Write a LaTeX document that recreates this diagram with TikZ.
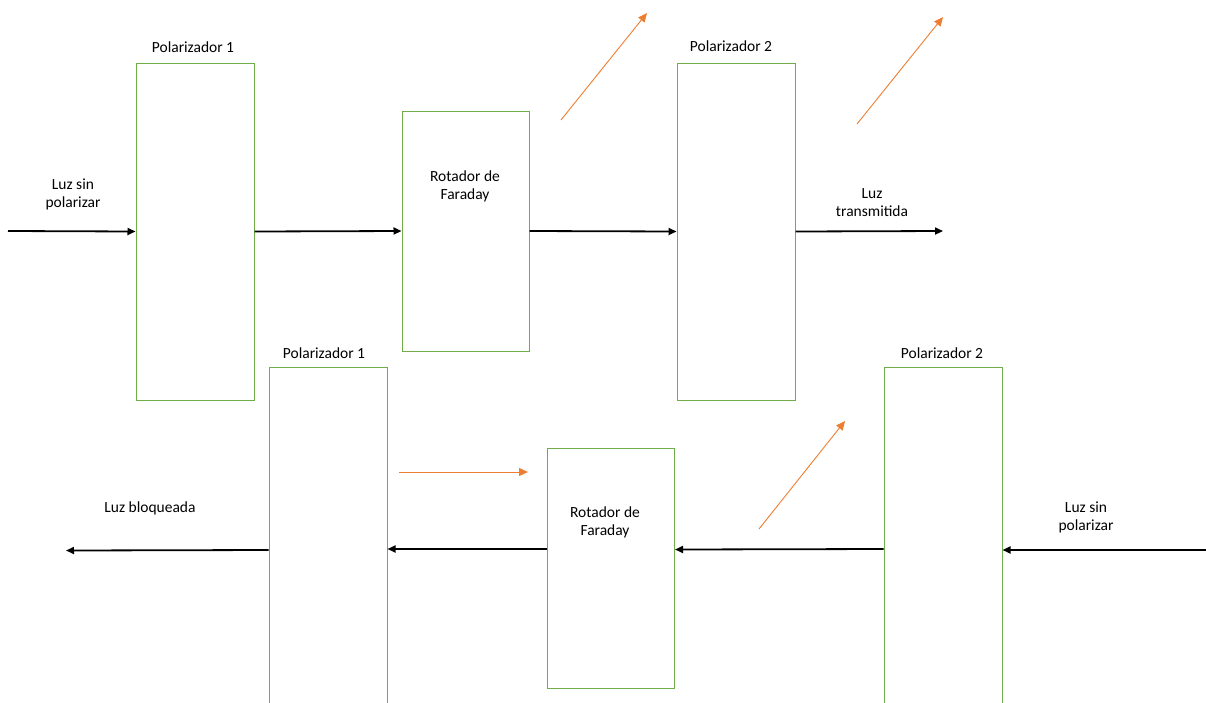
\documentclass[tikz,border=0pt]{standalone}
\usepackage{fontspec}
\setmainfont{Carlito}
\usetikzlibrary{arrows.meta}
\definecolor{boxgreen}{RGB}{112,173,71}
\definecolor{beamorange}{RGB}{237,125,49}
\tikzset{
  optbox/.style={draw=boxgreen, line width=1pt, minimum width=118pt, inner sep=0pt},
  rotbox/.style={draw=boxgreen, line width=1pt, minimum width=127pt, minimum height=240pt, inner sep=0pt},
  beam/.style={draw=black, line width=1.8pt, -{Triangle[length=8pt,width=7pt]}},
  obeam/.style={draw=beamorange, line width=0.9pt, -{Triangle[length=9pt,width=8pt]}},
  lbl/.style={font=\fontsize{15.5pt}{18pt}\selectfont, align=center, inner sep=0pt}
}
\begin{document}
\begin{tikzpicture}[x=1pt,y=-1pt]
\useasboundingbox (0,0) rectangle (1206,702);
\clip (0,0) rectangle (1206,702);
% top row
\node[optbox, minimum height=337pt] (p1a) at (195,231.5) {};
\node[rotbox] (ra) at (465.5,231) {};
\node[optbox, minimum height=337pt] (p2a) at (736,231.5) {};
\node[lbl] (t1) at (193,47) {Polarizador 1};
\node[lbl] (t2) at (731,46) {Polarizador 2};
\node[lbl] (t3) at (465,186) {Rotador de\\Faraday};
\node[lbl] (t4) at (73,194) {Luz sin\\polarizar};
\node[lbl] (t5) at (872,203) {Luz\\transmitida};
\coordinate (ina) at (8,231);
\coordinate (outa) at (943,231);
\draw[beam] (ina) -- (p1a.west);
\draw[beam] (p1a.east) -- (ra.west);
\draw[beam] (ra.east) -- (p2a.west);
\draw[beam] (p2a.east) -- (outa);
\coordinate (oa1) at (561,120);
\coordinate (oa2) at (647,13);
\coordinate (ob1) at (857,124);
\coordinate (ob2) at (943,17);
\draw[obeam] (oa1) -- (oa2);
\draw[obeam] (ob1) -- (ob2);
% bottom row
\node[optbox, minimum height=343pt] (p1b) at (328,538.5) {};
\node[rotbox] (rb) at (611,568) {};
\node[optbox, minimum height=343pt] (p2b) at (943,538.5) {};
\node[lbl] (t6) at (324,353) {Polarizador 1};
\node[lbl] (t7) at (942,353) {Polarizador 2};
\node[lbl] (t8) at (605,522) {Rotador de\\Faraday};
\node[lbl] (t9) at (150,508) {Luz bloqueada};
\node[lbl] (t10) at (1086,517) {Luz sin\\polarizar};
\coordinate (inb) at (1206,550);
\coordinate (outb) at (66,550.5);
\draw[beam] (inb) -- (p2b.east |- inb);
\draw[beam] (p2b.west |- 0,549) -- (rb.east |- 0,549.5);
\draw[beam] (rb.west |- 0,549) -- (p1b.east |- 0,549);
\draw[beam] (p1b.west |- 0,550) -- (outb);
\coordinate (oc1) at (399,472);
\coordinate (oc2) at (528,472);
\coordinate (od1) at (759,529);
\coordinate (od2) at (845,421);
\draw[obeam] (oc1) -- (oc2);
\draw[obeam] (od1) -- (od2);
\end{tikzpicture}
\end{document}
